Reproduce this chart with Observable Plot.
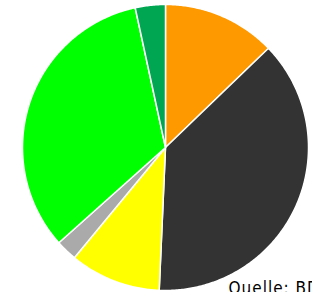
<!DOCTYPE html>
<html>
<head>
<meta charset="utf-8">
<script src="https://cdn.jsdelivr.net/npm/d3@7"></script>
<script src="https://cdn.jsdelivr.net/npm/@observablehq/plot@0.6"></script>
<style>
  html, body { margin: 0; padding: 0; background: #fff; overflow: hidden; }
  .caption text { letter-spacing: 1px; }
</style>
</head>
<body>
<div id="chart"></div>
<script>
const categories = ["Kernenergie", "Braunkohle", "Erdgas", "Öl", "Erneuerbare", "Sonstige"];
const values = [12.8, 37.9, 10.3, 2.4, 33.2, 3.4];
const colors = ["#ff9900", "#333333", "#ffff00", "#aaaaaa", "#00ff00", "#00a651"];
const caption = "Quelle: BDEW";

const arcs = d3.pie().sort(null)(values);
const slices = arcs.map((a, i) => {
  const pts = [{x: 0, y: 0}];
  const n = Math.max(2, Math.ceil((a.endAngle - a.startAngle) / 0.01));
  for (let k = 0; k <= n; k++) {
    const t = a.startAngle + (a.endAngle - a.startAngle) * k / n;
    pts.push({x: Math.sin(t), y: Math.cos(t)});
  }
  pts.push({x: 0, y: 0});
  return {name: categories[i], color: colors[i], pts};
});

const chart = Plot.plot({
  width: 312,
  height: 292,
  marginLeft: 22,
  marginRight: 4,
  marginTop: 4,
  marginBottom: 2,
  x: {domain: [-1, 1], axis: null},
  y: {domain: [-1, 1], axis: null},
  style: {background: "#fff", overflow: "visible"},
  marks: [
    ...slices.map(s => Plot.line(s.pts, {x: "x", y: "y", fill: s.color, stroke: "white", strokeWidth: 1.5, strokeLinejoin: "round"})),
    Plot.text([caption], {frameAnchor: "bottom-left", text: d => d, dx: 206, dy: -9, lineAnchor: "top", textAnchor: "start", fontSize: 17, fill: "#000", fontFamily: "DejaVu Sans Condensed", className: "caption"})
  ]
});
document.getElementById("chart").appendChild(chart);
</script>
</body>
</html>
